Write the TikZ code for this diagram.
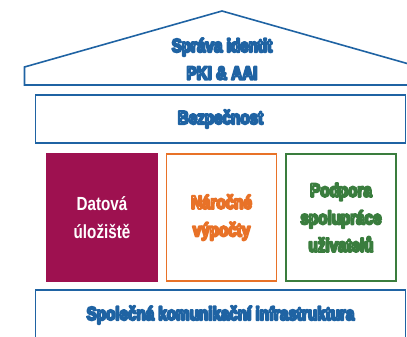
\documentclass[tikz,border=0pt]{standalone}
\usepackage{fontspec}
\setmainfont[FakeStretch=0.8]{Liberation Sans}
\definecolor{hblue}{RGB}{31,99,163}
\definecolor{hmaroon}{RGB}{158,17,80}
\definecolor{horange}{RGB}{232,114,40}
\definecolor{hgreen}{RGB}{58,125,62}
% outlined text: white fill, coloured stroke (#1 = r g b in 0..1)
\newcommand\outlinedtext[2]{{\color{white}\special{pdf:literal direct 2 Tr 1 j 2 w #1 RG}#2\special{pdf:literal direct 0 Tr}}}
\newcommand\bluetxt[1]{\outlinedtext{0.122 0.388 0.639}{#1}}
\newcommand\orangetxt[1]{\outlinedtext{0.91 0.447 0.157}{#1}}
\newcommand\greentxt[1]{\outlinedtext{0.227 0.49 0.243}{#1}}
\tikzset{
  x=1pt,y=-1pt,
  lbl/.style={font=\fontsize{19}{27.5}\selectfont\bfseries, align=center},
  bluebox/.style={draw=hblue, line width=1.8pt, inner sep=0pt, lbl},
  pillar/.style={inner sep=0pt, minimum width=110pt, minimum height=127pt, line width=1.6pt, lbl},
}
\begin{document}
\begin{tikzpicture}
\useasboundingbox (0,0) rectangle (407,337);
\clip (0,0) rectangle (407,337);
% roof
\draw[hblue, line width=1.6pt, line join=miter] (24.5,85) -- (24.5,67) -- (222,11) -- (419.5,67) -- (419.5,85) -- cycle;
\node[lbl] (roof) at (222,59) {\bluetxt{Správa identit}\\\bluetxt{PKI \& AAI}};
% security
\node[bluebox, minimum width=370pt, minimum height=48pt] (sec) at (220.5,119) {\bluetxt{Bezpečnost}};
% pillars
\node[pillar, fill=hmaroon, text=white, minimum width=112pt, minimum height=129pt] (data) at (102,217.5) {Datová\\úložiště};
\node[pillar, draw=horange] (comp) at (221.5,217.5) {\orangetxt{Náročné}\\\orangetxt{výpočty}};
\node[pillar, draw=hgreen] (collab) at (341,217.5) {\greentxt{Podpora}\\\greentxt{spolupráce}\\\greentxt{uživatelů}};
% base
\node[bluebox, minimum width=370pt, minimum height=50pt] (infra) at (220.5,315) {\bluetxt{Společná komunikační infrastruktura}};
\end{tikzpicture}
\end{document}
